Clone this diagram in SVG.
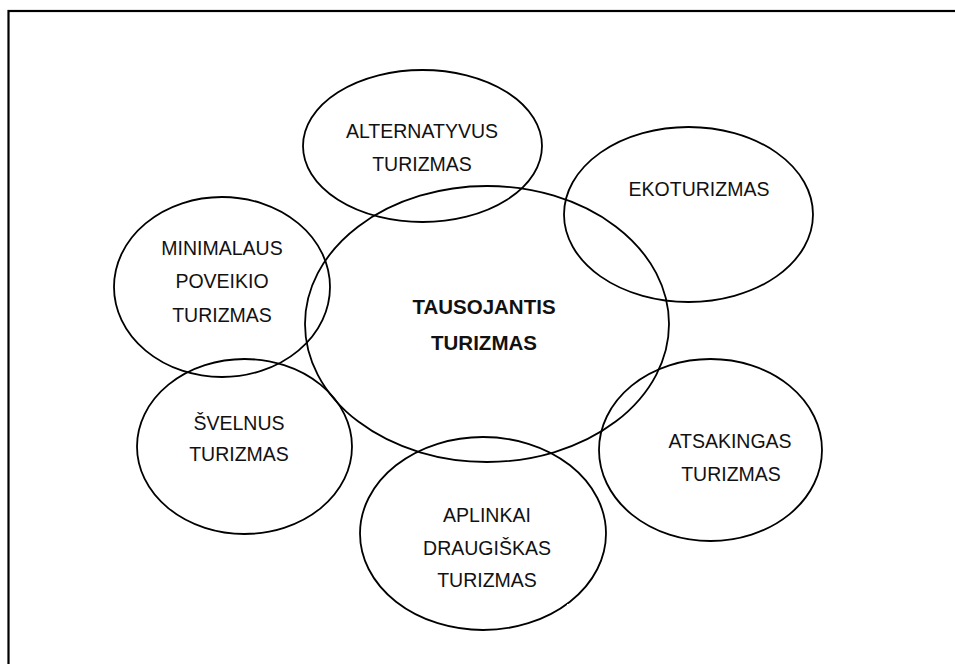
<svg xmlns="http://www.w3.org/2000/svg" width="955" height="664" viewBox="0 0 955 664">
<style>
.bg{fill:#fff}
.frame{fill:none;stroke:#000;stroke-width:2.2}
.node ellipse{fill:none;stroke:#000;stroke-width:1.8}
text{font-family:"Liberation Sans","Noto Sans",Arial,sans-serif;font-size:19.5px;fill:#111;text-anchor:middle}
.b{font-weight:bold;font-size:20.5px}
.gap{fill:#fff}
</style>
<rect class="bg" x="0" y="0" width="955" height="664"/>
<rect class="frame" x="8.5" y="11" width="1000" height="700"/>
<g id="connectors"></g>
<g id="center" class="node">
<ellipse cx="487" cy="324" rx="182" ry="138"/>
<text class="b" x="484" y="314">TAUSOJANTIS</text>
<text class="b" x="484" y="350">TURIZMAS</text>
</g>
<g id="alternatyvus" class="node">
<ellipse cx="422.5" cy="146" rx="119.5" ry="76"/>
<text x="422" y="138">ALTERNATYVUS</text>
<text x="422" y="171">TURIZMAS</text>
</g>
<g id="ekoturizmas" class="node">
<ellipse cx="688.5" cy="214.5" rx="124.5" ry="87.5"/>
<text x="699" y="196">EKOTURIZMAS</text>
</g>
<g id="minimalaus" class="node">
<ellipse cx="222" cy="287" rx="108" ry="90"/>
<text x="222" y="255">MINIMALAUS</text>
<text x="222" y="288">POVEIKIO</text>
<text x="222" y="322">TURIZMAS</text>
</g>
<g id="svelnus" class="node">
<ellipse cx="244.5" cy="446.5" rx="107.5" ry="87.5"/>
<text x="239" y="430">ŠVELNUS</text>
<text x="239" y="461">TURIZMAS</text>
</g>
<g id="atsakingas" class="node">
<ellipse cx="710.5" cy="450" rx="111.5" ry="91"/>
<text x="730" y="448">ATSAKINGAS</text>
<text x="731" y="481">TURIZMAS</text>
</g>
<g id="aplinkai" class="node">
<ellipse cx="483" cy="533.5" rx="123" ry="96.5"/>
<text x="487" y="522">APLINKAI</text>
<text x="487" y="555">DRAUGIŠKAS</text>
<text x="487" y="587">TURIZMAS</text>
</g>
<rect class="gap" x="369" y="604" width="4" height="6"/>
<rect class="gap" x="567" y="604" width="4" height="6"/>
</svg>
